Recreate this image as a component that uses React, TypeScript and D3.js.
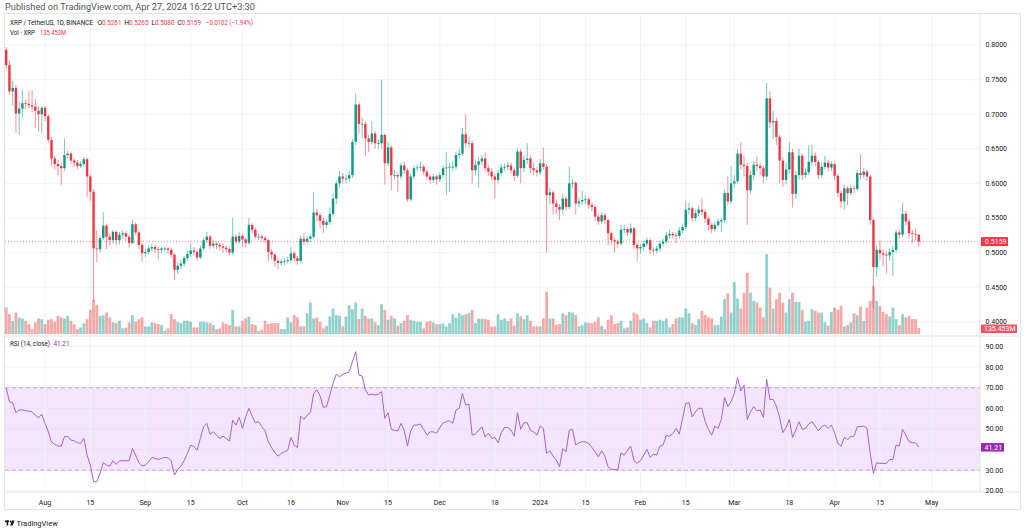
import React from 'react';
import * as d3 from 'd3';

// ---- data ----
const START_DATE = '2023-07-20';
const END_DATE = '2024-05-01';
const FIRST_OPEN = 0.793;

const closes = [
  0.771, 0.733, 0.738, 0.701, 0.708, 0.716, 0.715, 0.713, 0.711, 0.705,
  0.700, 0.709, 0.697, 0.663, 0.636, 0.628, 0.625, 0.622, 0.641, 0.643,
  0.633, 0.630, 0.625, 0.628, 0.635, 0.610, 0.588, 0.506, 0.505, 0.521,
  0.539, 0.523, 0.518, 0.530, 0.518, 0.526, 0.528, 0.523, 0.514, 0.541,
  0.529, 0.511, 0.499, 0.501, 0.506, 0.508, 0.505, 0.504, 0.506, 0.506,
  0.504, 0.497, 0.475, 0.481, 0.484, 0.492, 0.498, 0.503, 0.501, 0.493,
  0.506, 0.518, 0.523, 0.510, 0.513, 0.511, 0.509, 0.507, 0.505, 0.500,
  0.523, 0.516, 0.524, 0.519, 0.514, 0.540, 0.533, 0.523, 0.523, 0.521,
  0.518, 0.501, 0.497, 0.488, 0.485, 0.487, 0.488, 0.489, 0.499, 0.492,
  0.488, 0.520, 0.516, 0.520, 0.523, 0.558, 0.554, 0.546, 0.540, 0.544,
  0.556, 0.578, 0.600, 0.610, 0.607, 0.607, 0.612, 0.660, 0.714, 0.686,
  0.686, 0.665, 0.660, 0.672, 0.658, 0.658, 0.670, 0.629, 0.652, 0.612,
  0.612, 0.610, 0.626, 0.619, 0.577, 0.610, 0.622, 0.623, 0.624, 0.617,
  0.610, 0.605, 0.610, 0.606, 0.612, 0.622, 0.623, 0.624, 0.624, 0.641,
  0.643, 0.671, 0.658, 0.658, 0.619, 0.627, 0.632, 0.636, 0.622, 0.617,
  0.610, 0.605, 0.615, 0.623, 0.624, 0.626, 0.619, 0.611, 0.646, 0.622,
  0.634, 0.636, 0.622, 0.619, 0.616, 0.629, 0.624, 0.583, 0.587, 0.571,
  0.566, 0.562, 0.578, 0.566, 0.600, 0.601, 0.571, 0.574, 0.576, 0.577,
  0.569, 0.566, 0.552, 0.545, 0.554, 0.547, 0.528, 0.518, 0.516, 0.513,
  0.533, 0.534, 0.529, 0.535, 0.511, 0.506, 0.508, 0.513, 0.518, 0.504,
  0.503, 0.506, 0.513, 0.516, 0.525, 0.527, 0.525, 0.524, 0.532, 0.537,
  0.562, 0.564, 0.550, 0.557, 0.562, 0.559, 0.549, 0.540, 0.534, 0.540,
  0.545, 0.547, 0.586, 0.574, 0.600, 0.603, 0.643, 0.627, 0.625, 0.590,
  0.612, 0.627, 0.625, 0.622, 0.610, 0.723, 0.688, 0.690, 0.667, 0.633,
  0.605, 0.620, 0.645, 0.585, 0.612, 0.640, 0.612, 0.616, 0.631, 0.640,
  0.631, 0.612, 0.624, 0.630, 0.623, 0.628, 0.611, 0.586, 0.574, 0.593,
  0.586, 0.593, 0.592, 0.615, 0.612, 0.617, 0.610, 0.547, 0.479, 0.504,
  0.499, 0.497, 0.496, 0.501, 0.504, 0.529, 0.526, 0.556, 0.545, 0.528,
  0.527, 0.5261, 0.5159,
];

const highs = [
  0.797, 0.778, 0.748, 0.742, 0.718, 0.735, 0.722, 0.734, 0.735, 0.722,
  0.712, 0.712, 0.712, 0.700, 0.667, 0.640, 0.634, 0.630, 0.665, 0.648,
  0.646, 0.636, 0.634, 0.632, 0.638, 0.637, 0.613, 0.592, 0.532, 0.525,
  0.558, 0.542, 0.527, 0.533, 0.532, 0.530, 0.532, 0.531, 0.526, 0.548,
  0.544, 0.531, 0.514, 0.506, 0.510, 0.512, 0.511, 0.508, 0.509, 0.509,
  0.508, 0.507, 0.499, 0.486, 0.490, 0.495, 0.503, 0.513, 0.508, 0.504,
  0.510, 0.522, 0.530, 0.526, 0.518, 0.516, 0.514, 0.513, 0.510, 0.508,
  0.550, 0.526, 0.530, 0.527, 0.522, 0.550, 0.543, 0.536, 0.528, 0.526,
  0.524, 0.520, 0.505, 0.500, 0.492, 0.491, 0.492, 0.494, 0.508, 0.502,
  0.495, 0.525, 0.528, 0.524, 0.527, 0.587, 0.563, 0.558, 0.550, 0.548,
  0.565, 0.586, 0.604, 0.618, 0.615, 0.612, 0.618, 0.664, 0.730, 0.718,
  0.695, 0.690, 0.670, 0.690, 0.676, 0.664, 0.750, 0.672, 0.660, 0.655,
  0.620, 0.616, 0.630, 0.632, 0.622, 0.614, 0.626, 0.628, 0.632, 0.627,
  0.620, 0.613, 0.614, 0.613, 0.616, 0.626, 0.645, 0.630, 0.633, 0.646,
  0.650, 0.680, 0.700, 0.668, 0.662, 0.634, 0.638, 0.641, 0.645, 0.627,
  0.622, 0.614, 0.620, 0.628, 0.629, 0.631, 0.630, 0.623, 0.650, 0.650,
  0.640, 0.658, 0.640, 0.630, 0.624, 0.635, 0.652, 0.628, 0.593, 0.590,
  0.577, 0.570, 0.585, 0.582, 0.624, 0.606, 0.603, 0.580, 0.590, 0.583,
  0.580, 0.572, 0.569, 0.556, 0.558, 0.557, 0.549, 0.530, 0.522, 0.519,
  0.540, 0.540, 0.537, 0.542, 0.537, 0.514, 0.512, 0.517, 0.522, 0.520,
  0.508, 0.510, 0.517, 0.520, 0.530, 0.533, 0.530, 0.529, 0.537, 0.542,
  0.575, 0.572, 0.567, 0.562, 0.568, 0.578, 0.562, 0.552, 0.543, 0.545,
  0.549, 0.550, 0.592, 0.610, 0.625, 0.612, 0.650, 0.660, 0.640, 0.630,
  0.618, 0.632, 0.640, 0.630, 0.625, 0.745, 0.733, 0.705, 0.695, 0.670,
  0.638, 0.630, 0.660, 0.650, 0.618, 0.650, 0.643, 0.622, 0.655, 0.656,
  0.645, 0.634, 0.630, 0.640, 0.634, 0.632, 0.630, 0.614, 0.590, 0.598,
  0.596, 0.598, 0.598, 0.620, 0.642, 0.622, 0.620, 0.613, 0.550, 0.510,
  0.518, 0.505, 0.503, 0.506, 0.510, 0.533, 0.533, 0.572, 0.560, 0.549,
  0.533, 0.535, 0.5265,
];

const lows = [
  0.765, 0.728, 0.712, 0.673, 0.670, 0.695, 0.707, 0.708, 0.703, 0.680,
  0.675, 0.672, 0.690, 0.658, 0.625, 0.620, 0.612, 0.598, 0.618, 0.636,
  0.628, 0.624, 0.620, 0.622, 0.624, 0.580, 0.575, 0.429, 0.486, 0.500,
  0.518, 0.505, 0.510, 0.513, 0.510, 0.512, 0.520, 0.517, 0.507, 0.512,
  0.525, 0.505, 0.487, 0.494, 0.497, 0.502, 0.500, 0.490, 0.499, 0.502,
  0.499, 0.492, 0.461, 0.469, 0.476, 0.480, 0.488, 0.494, 0.496, 0.488,
  0.490, 0.503, 0.514, 0.505, 0.506, 0.505, 0.503, 0.500, 0.500, 0.496,
  0.497, 0.512, 0.513, 0.508, 0.508, 0.511, 0.528, 0.520, 0.518, 0.516,
  0.513, 0.487, 0.490, 0.480, 0.476, 0.481, 0.482, 0.484, 0.486, 0.487,
  0.482, 0.485, 0.511, 0.512, 0.515, 0.520, 0.545, 0.535, 0.528, 0.535,
  0.540, 0.552, 0.570, 0.594, 0.600, 0.600, 0.603, 0.608, 0.655, 0.672,
  0.665, 0.640, 0.645, 0.656, 0.650, 0.650, 0.650, 0.598, 0.625, 0.590,
  0.606, 0.588, 0.606, 0.614, 0.573, 0.574, 0.606, 0.618, 0.618, 0.612,
  0.605, 0.600, 0.601, 0.598, 0.602, 0.608, 0.583, 0.588, 0.618, 0.620,
  0.636, 0.640, 0.652, 0.652, 0.600, 0.612, 0.593, 0.626, 0.617, 0.611,
  0.604, 0.578, 0.600, 0.611, 0.618, 0.619, 0.614, 0.603, 0.608, 0.600,
  0.616, 0.628, 0.615, 0.612, 0.610, 0.612, 0.620, 0.500, 0.570, 0.555,
  0.556, 0.547, 0.555, 0.560, 0.563, 0.593, 0.555, 0.566, 0.569, 0.570,
  0.563, 0.560, 0.546, 0.540, 0.541, 0.542, 0.510, 0.512, 0.500, 0.507,
  0.510, 0.528, 0.524, 0.526, 0.505, 0.488, 0.498, 0.503, 0.509, 0.498,
  0.497, 0.499, 0.502, 0.509, 0.512, 0.520, 0.520, 0.513, 0.520, 0.528,
  0.534, 0.555, 0.545, 0.546, 0.552, 0.554, 0.543, 0.532, 0.528, 0.530,
  0.536, 0.530, 0.543, 0.568, 0.570, 0.594, 0.600, 0.620, 0.610, 0.540,
  0.585, 0.605, 0.618, 0.612, 0.600, 0.605, 0.680, 0.665, 0.655, 0.600,
  0.595, 0.598, 0.615, 0.565, 0.578, 0.605, 0.605, 0.607, 0.612, 0.626,
  0.625, 0.606, 0.608, 0.620, 0.617, 0.618, 0.605, 0.580, 0.565, 0.562,
  0.568, 0.582, 0.586, 0.589, 0.606, 0.607, 0.604, 0.540, 0.420, 0.465,
  0.490, 0.480, 0.470, 0.488, 0.466, 0.500, 0.520, 0.522, 0.540, 0.520,
  0.514, 0.518, 0.5080,
];

// volume in millions XRP
const volumes = [
  602, 452, 301, 489, 377, 354, 301, 226, 113, 264,
  354, 339, 226, 324, 339, 279, 414, 377, 354, 414,
  301, 226, 113, 151, 249, 339, 550, 776, 663, 414,
  429, 489, 377, 264, 249, 301, 128, 143, 264, 429,
  286, 339, 377, 173, 173, 264, 249, 226, 203, 75,
  128, 452, 339, 279, 249, 301, 301, 279, 151, 151,
  279, 279, 264, 249, 203, 113, 128, 264, 226, 203,
  550, 173, 173, 301, 354, 399, 226, 203, 75, 98,
  301, 226, 249, 249, 249, 113, 113, 377, 264, 429,
  377, 173, 173, 474, 715, 354, 377, 279, 128, 188,
  399, 580, 429, 414, 173, 399, 655, 565, 715, 339,
  580, 414, 354, 354, 264, 203, 678, 550, 324, 414,
  354, 188, 249, 301, 429, 324, 301, 279, 279, 128,
  279, 301, 264, 226, 226, 241, 173, 249, 452, 377,
  474, 429, 452, 474, 550, 249, 354, 354, 339, 324,
  173, 173, 452, 324, 354, 301, 354, 188, 474, 399,
  339, 429, 301, 173, 173, 173, 354, 964, 354, 354,
  211, 226, 474, 429, 505, 489, 429, 173, 203, 264,
  249, 249, 279, 377, 188, 113, 324, 429, 226, 249,
  301, 128, 151, 301, 489, 452, 324, 354, 249, 151,
  301, 301, 324, 301, 354, 151, 226, 354, 377, 377,
  580, 474, 249, 203, 339, 527, 429, 377, 354, 203,
  203, 399, 791, 926, 489, 1182, 806, 580, 941, 1393,
  941, 753, 715, 602, 377, 1822, 1054, 580, 791, 941,
  715, 489, 791, 941, 730, 730, 550, 279, 301, 565,
  527, 489, 489, 264, 188, 505, 602, 550, 640, 173,
  203, 264, 474, 429, 625, 301, 602, 753, 1092, 753,
  640, 505, 452, 399, 602, 339, 203, 452, 377, 414,
  339, 339, 135.453,
];

const rsiValues = [
  70.0, 63.2, 62.7, 57.9, 59.2, 59.2, 58.8, 58.7, 58.3, 56.7,
  55.4, 57.2, 52.7, 48.6, 43.8, 42.5, 41.7, 41.7, 46.2, 46.5,
  44.6, 44.3, 43.3, 43.0, 45.4, 37.3, 32.5, 24.4, 24.4, 28.4,
  33.6, 32.5, 32.0, 34.6, 32.8, 34.6, 34.6, 34.6, 34.6, 40.5,
  37.3, 33.6, 32.0, 32.5, 34.1, 36.2, 35.7, 35.2, 35.7, 36.2,
  36.0, 34.6, 27.6, 30.4, 32.0, 34.6, 38.1, 42.2, 41.4, 39.7,
  45.4, 51.1, 52.7, 47.5, 48.6, 47.0, 45.4, 46.5, 45.4, 44.1,
  54.3, 51.9, 55.6, 50.3, 55.9, 60.0, 56.2, 53.0, 53.5, 51.1,
  49.1, 43.8, 41.0, 38.6, 36.8, 38.1, 38.9, 39.7, 45.9, 42.2,
  41.0, 56.2, 54.6, 56.7, 57.9, 67.2, 68.9, 66.0, 60.5, 60.8,
  66.4, 72.1, 76.6, 75.3, 76.5, 77.0, 77.8, 82.6, 87.5, 76.1,
  75.7, 68.9, 66.4, 66.9, 66.4, 66.9, 68.1, 55.1, 57.9, 49.8,
  49.4, 49.1, 52.7, 49.4, 41.7, 49.1, 51.9, 51.9, 52.4, 49.8,
  47.0, 48.6, 48.6, 47.8, 50.7, 53.0, 53.5, 54.0, 52.7, 59.2,
  60.0, 67.2, 61.6, 62.1, 47.0, 47.5, 49.4, 51.1, 46.2, 47.8,
  45.4, 45.9, 43.3, 48.2, 50.7, 50.7, 49.4, 46.5, 57.9, 49.8,
  53.0, 53.0, 49.4, 48.6, 47.0, 51.4, 50.3, 38.1, 39.4, 36.8,
  34.9, 31.6, 40.5, 38.9, 49.4, 49.8, 42.2, 43.3, 43.8, 43.8,
  43.0, 41.0, 38.9, 36.5, 39.4, 36.8, 31.6, 30.4, 30.4, 30.0,
  38.4, 37.3, 39.7, 41.7, 34.6, 33.3, 34.6, 37.3, 40.1, 36.2,
  37.8, 37.3, 41.7, 42.2, 47.0, 46.5, 47.8, 50.3, 47.5, 55.1,
  62.4, 62.7, 55.9, 58.3, 60.0, 60.0, 53.5, 49.8, 47.0, 51.4,
  50.3, 54.6, 65.3, 60.8, 63.2, 67.2, 74.9, 68.5, 71.3, 54.6,
  58.3, 60.8, 58.8, 59.2, 55.6, 74.0, 64.3, 64.3, 61.1, 55.6,
  48.2, 50.7, 54.6, 45.9, 49.4, 53.5, 49.8, 50.3, 52.4, 53.5,
  51.4, 49.1, 51.1, 51.9, 50.3, 51.9, 48.2, 43.0, 41.7, 45.9,
  44.9, 46.2, 46.5, 51.1, 51.1, 51.4, 50.3, 38.1, 28.4, 33.6,
  33.3, 33.3, 33.3, 35.2, 35.2, 42.2, 41.7, 49.8, 47.0, 43.8,
  43.3, 43.3, 41.21,
];

const priceTicks = [0.40, 0.45, 0.50, 0.55, 0.60, 0.65, 0.70, 0.75, 0.80];
const rsiTicks = [20, 30, 40, 50, 60, 70, 80, 90];
const timeTickDates = ['2023-08-01', '2023-08-15', '2023-09-01', '2023-09-15', '2023-10-01', '2023-10-16', '2023-11-01', '2023-11-15', '2023-12-01', '2023-12-18', '2024-01-01', '2024-01-15', '2024-02-01', '2024-02-15', '2024-03-01', '2024-03-18', '2024-04-01', '2024-04-15', '2024-05-01'];
const timeTickLabels = ['Aug', '15', 'Sep', '15', 'Oct', '16', 'Nov', '15', 'Dec', '18', '2024', '15', 'Feb', '15', 'Mar', '18', 'Apr', '15', 'May'];

const LAST_CLOSE = 0.5159;
const LAST_RSI = 41.21;

const UP = '#089981';
const DOWN = '#f23645';
const FONT = 'Roboto, "Liberation Sans", sans-serif';

export default function App() {
  const parse = (s: string) => new Date(s + 'T00:00:00Z');
  const start = parse(START_DATE);
  const dates = closes.map((_, i) => d3.utcDay.offset(start, i));

  const x = d3.scaleUtc().domain([start, parse(END_DATE)]).range([6.2, 931.7]);
  const y = d3.scaleLinear().domain([0.4, 0.8]).range([321.8, 45]);
  const yVol = d3.scaleLinear().domain([0, 1822]).range([334, 254]);
  const yRsi = d3.scaleLinear().domain([20, 90]).range([490.8, 346.5]);

  const plotL = 5, plotR = 980;
  const opens = closes.map((c, i) => (i === 0 ? FIRST_OPEN : closes[i - 1]));

  const rsiLine = d3.line<number>()
    .x((_, i) => x(dates[i]))
    .y((v) => yRsi(v));

  const bodyW = 2.4;
  const rsiLabelY = yRsi(LAST_RSI);

  return (
    <svg width={1024} height={529} style={{ position: 'absolute', left: 0, top: 0, background: '#fff' }} fontFamily={FONT}>
      <rect x={0} y={0} width={1024} height={529} fill="#fff" />
      <text x={5} y={10} fontSize={9} fill="#555" textLength={250} lengthAdjust="spacingAndGlyphs">Published on TradingView.com, Apr 27, 2024 16:22 UTC+3:30</text>

      {/* frame */}
      <rect x={4.5} y={13.5} width={1016} height={496} fill="none" stroke="#e0e3eb" />

      {/* RSI band */}
      <rect x={plotL} y={yRsi(70)} width={plotR - plotL} height={yRsi(30) - yRsi(70)} fill="#f3e6fc" />

      {/* horizontal grid */}
      {priceTicks.map((t) => (
        <line key={'pg' + t} x1={plotL} x2={plotR} y1={y(t)} y2={y(t)} stroke="#f0f3fa" />
      ))}
      {rsiTicks.map((t) => (
        <line key={'rg' + t} x1={plotL} x2={plotR} y1={yRsi(t)} y2={yRsi(t)} stroke={t >= 30 && t <= 70 ? '#ebdff5' : '#f0f3fa'} />
      ))}
      {/* vertical grid */}
      {timeTickDates.map((d) => (
        <line key={'vg' + d} x1={x(parse(d))} x2={x(parse(d))} y1={14} y2={492} stroke="#f0f3fa" />
      ))}

      {/* band lines */}
      <line x1={plotL} x2={plotR} y1={yRsi(70)} y2={yRsi(70)} stroke="#c9a6e0" strokeDasharray="4,3" />
      <line x1={plotL} x2={plotR} y1={yRsi(30)} y2={yRsi(30)} stroke="#c9a6e0" strokeDasharray="4,3" />

      {/* pane separators */}
      <line x1={plotL} x2={1020} y1={336} y2={336} stroke="#e0e3eb" />
      <line x1={plotL} x2={1020} y1={492} y2={492} stroke="#e0e3eb" />
      <line x1={plotR} x2={plotR} y1={14} y2={492} stroke="#e0e3eb" />

      {/* volume */}
      {volumes.map((v, i) => {
        const up = closes[i] >= opens[i];
        return (
          <rect key={'v' + i} x={x(dates[i]) - bodyW / 2 - 0.2} width={bodyW + 0.4} y={yVol(v)} height={yVol(0) - yVol(v)} fill={up ? '#26a69a' : '#ef5350'} opacity={0.5} />
        );
      })}

      {/* current price line */}
      <line x1={plotL} x2={plotR} y1={y(LAST_CLOSE)} y2={y(LAST_CLOSE)} stroke={DOWN} strokeOpacity={0.6} strokeDasharray="1,2" />

      {/* candles */}
      {closes.map((c, i) => {
        const o = opens[i];
        const up = c >= o;
        const col = up ? UP : DOWN;
        const cx = x(dates[i]);
        const top = y(Math.max(o, c));
        const bot = y(Math.min(o, c));
        return (
          <g key={'c' + i}>
            <line x1={cx} x2={cx} y1={y(highs[i])} y2={y(lows[i])} stroke={col} strokeWidth={1} strokeOpacity={0.55} />
            <rect x={cx - bodyW / 2} width={bodyW} y={top} height={Math.max(0.8, bot - top)} fill={col} />
          </g>
        );
      })}

      {/* RSI line */}
      <path d={rsiLine(rsiValues) || ''} fill="none" stroke="#ab5fd0" strokeWidth={1} />

      {/* legends */}
      <text x={10} y={25} fontSize={6.8} fill="#131722" textLength={83} lengthAdjust="spacingAndGlyphs">XRP / TetherUS, 1D, BINANCE</text>
      <text x={97.5} y={25} fontSize={6.8} fill="#131722">O</text>
      <text x={102} y={25} fontSize={6.8} fill={DOWN} textLength={19.5} lengthAdjust="spacingAndGlyphs">0.5261</text>
      <text x={124.3} y={25} fontSize={6.8} fill="#131722">H</text>
      <text x={129} y={25} fontSize={6.8} fill={DOWN} textLength={19.5} lengthAdjust="spacingAndGlyphs">0.5265</text>
      <text x={151.5} y={25} fontSize={6.8} fill="#131722">L</text>
      <text x={155} y={25} fontSize={6.8} fill={DOWN} textLength={19.5} lengthAdjust="spacingAndGlyphs">0.5080</text>
      <text x={177.3} y={25} fontSize={6.8} fill="#131722">C</text>
      <text x={181.5} y={25} fontSize={6.8} fill={DOWN} textLength={19.5} lengthAdjust="spacingAndGlyphs">0.5159</text>
      <text x={206} y={25} fontSize={6.8} fill={DOWN} textLength={47} lengthAdjust="spacingAndGlyphs">−0.0102 (−1.94%)</text>
      <text x={10} y={34.5} fontSize={6.8} fill="#131722" textLength={25} lengthAdjust="spacingAndGlyphs">Vol · XRP</text>
      <text x={40} y={34.5} fontSize={6.8} fill={DOWN} textLength={26} lengthAdjust="spacingAndGlyphs">135.453M</text>
      <text x={10} y={346} fontSize={6.8} fill="#131722" textLength={40} lengthAdjust="spacingAndGlyphs">RSI (14, close)</text>
      <text x={53.5} y={346} fontSize={6.8} fill="#9c27b0" textLength={16} lengthAdjust="spacingAndGlyphs">41.21</text>

      {/* price axis */}
      {priceTicks.map((t) => (
        <text key={'pt' + t} x={985.5} y={y(t)} dy="0.35em" fontSize={7} fill="#131722">{t.toFixed(4)}</text>
      ))}
      {rsiTicks.filter((t) => Math.abs(yRsi(t) - rsiLabelY) > 8).map((t) => (
        <text key={'rt' + t} x={985.5} y={yRsi(t)} dy="0.35em" fontSize={7} fill="#131722">{t.toFixed(2)}</text>
      ))}

      {/* last price label */}
      <rect x={981} y={y(LAST_CLOSE) - 4.5} width={27} height={9} fill={DOWN} />
      <text x={985} y={y(LAST_CLOSE)} dy="0.35em" fontSize={7} fill="#fff">{LAST_CLOSE.toFixed(4)}</text>
      {/* volume label */}
      <rect x={981} y={324.5} width={36} height={8.5} fill={DOWN} opacity={0.85} />
      <text x={984} y={328.8} dy="0.35em" fontSize={7} fill="#fff">135.453M</text>
      {/* RSI label */}
      <rect x={981} y={rsiLabelY - 4} width={23} height={8.5} fill="#9c27b0" />
      <text x={984.5} y={rsiLabelY + 0.2} dy="0.35em" fontSize={7} fill="#fff">{LAST_RSI.toFixed(2)}</text>

      {/* time axis */}
      {timeTickDates.map((d, i) => (
        <text key={'tt' + d} x={x(parse(d))} y={505} textAnchor="middle" fontSize={7} fill="#131722">{timeTickLabels[i]}</text>
      ))}

      {/* logo */}
      <g transform="translate(5,520.5)" fill="#131722">
        <rect x={0} y={0} width={4} height={1.6} />
        <rect x={1.6} y={0} width={1.6} height={5} />
        <circle cx={5.6} cy={1} r={0.9} />
        <path d="M7,0 L9.6,0 L7.6,5 L5.2,5 Z" />
      </g>
      <text x={16.5} y={525.5} fontSize={7.5} fill="#131722">TradingView</text>
    </svg>
  );
}
